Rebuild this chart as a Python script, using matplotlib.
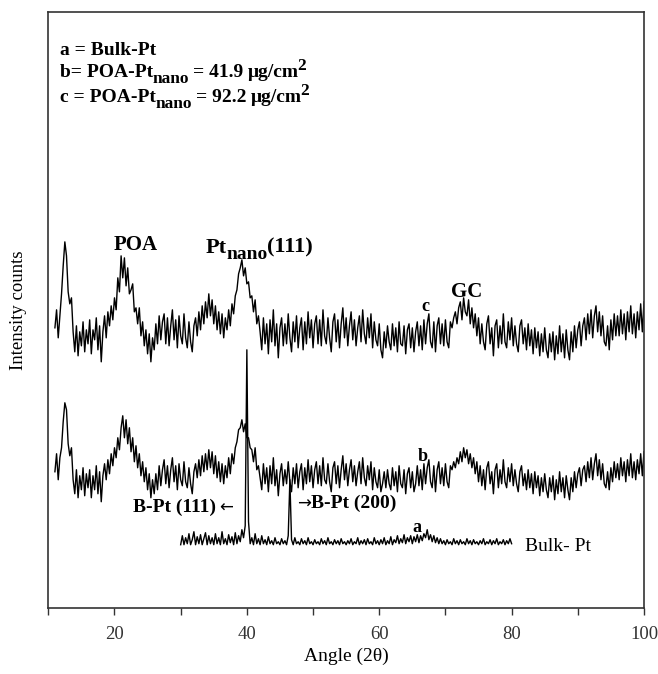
import numpy as np
import matplotlib
matplotlib.use("Agg")
import matplotlib.pyplot as plt
import matplotlib.transforms as mtransforms

# XRD patterns: a = bulk Pt, b/c = POA-Pt nano films (offset traces)
plt.rcParams['font.family'] = ['Liberation Serif', 'DejaVu Serif']

# --- data ---
# traces b and c: 2theta from 11 to 100 in 0.25 deg steps
bc_start, bc_step = 11.0, 0.25
c_counts = [
    280, 298, 270, 292, 314, 342, 366, 352, 316, 304, 310, 276, 256, 282, 252, 276, 262, 286, 256, 278,
    264, 288, 254, 278, 268, 290, 258, 282, 246, 276, 292, 270, 296, 282, 302, 288, 310, 298, 330, 316,
    352, 330, 350, 322, 340, 314, 318, 324, 296, 300, 284, 300, 272, 286, 262, 278, 254, 274, 246, 270,
    258, 284, 264, 292, 268, 286, 294, 264, 290, 262, 282, 298, 268, 288, 260, 292, 272, 264, 294, 270,
    260, 286, 266, 256, 282, 290, 272, 296, 278, 302, 284, 306, 290, 314, 292, 308, 284, 302, 278, 296,
    274, 294, 270, 290, 278, 298, 282, 304, 294, 312, 318, 334, 340, 348, 332, 340, 324, 326, 310, 312,
    296, 308, 284, 292, 276, 258, 290, 264, 284, 254, 288, 266, 298, 262, 284, 250, 280, 290, 262, 284,
    264, 294, 270, 256, 286, 266, 292, 260, 280, 290, 258, 286, 264, 296, 270, 288, 260, 284, 292, 264,
    288, 262, 298, 272, 264, 290, 270, 256, 286, 294, 266, 288, 260, 284, 300, 270, 290, 262, 282, 296,
    268, 288, 262, 280, 292, 266, 298, 274, 264, 290, 270, 294, 260, 286, 268, 262, 284, 258, 250, 276,
    260, 282, 266, 258, 284, 262, 280, 256, 286, 264, 262, 282, 254, 278, 284, 260, 280, 256, 276, 286,
    262, 282, 258, 288, 264, 284, 294, 266, 260, 286, 256, 282, 290, 264, 284, 262, 288, 266, 260, 286,
    280, 290, 296, 284, 300, 306, 288, 310, 296, 292, 308, 284, 300, 280, 294, 272, 290, 264, 284, 266,
    258, 284, 292, 264, 280, 252, 282, 288, 260, 282, 264, 294, 266, 260, 286, 268, 290, 262, 282, 264,
    256, 282, 288, 264, 280, 258, 284, 262, 278, 254, 280, 260, 276, 252, 274, 256, 280, 258, 250, 274,
    256, 276, 248, 272, 254, 282, 256, 274, 250, 278, 258, 248, 276, 256, 282, 260, 278, 286, 262, 282,
    290, 268, 294, 274, 298, 270, 292, 302, 276, 296, 272, 292, 266, 262, 282, 258, 288, 268, 294, 272,
    292, 272, 298, 274, 294, 268, 296, 276, 302, 274, 294, 270, 296, 278, 304, 276, 306,
]
b_counts = [
    136, 154, 128, 150, 160, 186, 205, 198, 164, 152, 160, 128, 114, 138, 110, 132, 118, 140, 112, 134,
    120, 138, 110, 132, 118, 142, 114, 136, 106, 132, 144, 128, 148, 134, 154, 142, 160, 150, 170, 158,
    180, 192, 170, 188, 164, 180, 156, 170, 146, 162, 140, 154, 132, 146, 126, 140, 118, 134, 110, 128,
    114, 134, 118, 142, 122, 138, 148, 124, 142, 120, 138, 150, 126, 142, 118, 144, 128, 122, 146, 126,
    120, 140, 124, 114, 136, 144, 130, 148, 132, 152, 136, 154, 138, 158, 140, 156, 134, 152, 130, 146,
    126, 144, 124, 142, 130, 150, 134, 154, 144, 160, 166, 178, 180, 188, 176, 184, 170, 170, 160, 158,
    146, 160, 138, 142, 130, 118, 144, 124, 140, 116, 142, 124, 150, 122, 138, 112, 134, 144, 122, 138,
    124, 146, 126, 116, 140, 124, 144, 120, 136, 144, 118, 140, 124, 148, 126, 142, 120, 138, 146, 124,
    142, 122, 150, 128, 124, 144, 126, 116, 140, 146, 124, 142, 120, 138, 152, 128, 144, 122, 138, 148,
    126, 142, 122, 136, 146, 124, 150, 130, 122, 142, 128, 146, 118, 140, 126, 120, 138, 116, 124, 136,
    120, 138, 124, 118, 140, 122, 136, 116, 142, 124, 120, 138, 114, 134, 140, 120, 136, 116, 124, 142,
    122, 138, 118, 144, 124, 140, 148, 126, 120, 142, 116, 138, 146, 124, 140, 122, 144, 126, 120, 142,
    138, 146, 140, 150, 144, 156, 146, 160, 150, 158, 144, 154, 140, 150, 134, 146, 126, 142, 122, 138,
    118, 140, 146, 124, 136, 114, 138, 144, 120, 138, 124, 148, 126, 120, 140, 126, 144, 122, 138, 124,
    116, 136, 142, 122, 134, 118, 138, 120, 134, 114, 136, 120, 132, 112, 130, 116, 134, 118, 110, 130,
    116, 132, 108, 128, 114, 136, 116, 130, 110, 132, 118, 108, 130, 116, 136, 120, 134, 140, 122, 138,
    142, 126, 146, 130, 150, 128, 144, 154, 132, 148, 128, 144, 124, 120, 136, 118, 140, 126, 146, 130,
    144, 128, 150, 132, 146, 126, 148, 132, 154, 130, 146, 128, 148, 134, 154, 132, 156,
]
# trace a (bulk Pt): 30 to 80 in 0.25 deg steps
a_start, a_step = 30.0, 0.25
a_counts = [
    63, 72, 63, 70, 64, 74, 63, 68, 76, 63, 71, 64, 73, 63, 69, 75, 63, 72, 64, 70,
    63, 74, 64, 70, 63, 76, 64, 69, 63, 73, 65, 71, 63, 75, 64, 72, 66, 78, 70, 82,
    258, 86, 64, 70, 63, 74, 64, 69, 63, 72, 64, 68, 63, 71, 64, 67, 63, 70, 64, 66,
    63, 69, 64, 67, 63, 72, 128, 68, 63, 70, 64, 66, 63, 69, 64, 67, 63, 70, 64, 66,
    63, 68, 64, 66, 63, 69, 64, 67, 63, 70, 64, 66, 63, 68, 64, 67, 63, 69, 64, 66,
    63, 67, 64, 69, 63, 66, 64, 70, 63, 67, 64, 68, 63, 69, 64, 66, 63, 70, 64, 67,
    63, 68, 64, 70, 63, 67, 64, 71, 63, 68, 65, 72, 64, 69, 65, 73, 64, 70, 66, 72,
    64, 71, 66, 73, 65, 72, 67, 74, 70, 78, 68, 73, 66, 72, 65, 70, 64, 69, 64, 67,
    63, 68, 64, 66, 63, 69, 64, 67, 63, 68, 64, 66, 63, 69, 64, 67, 63, 68, 64, 66,
    63, 67, 64, 69, 63, 66, 64, 68, 63, 67, 64, 69, 63, 66, 64, 68, 63, 67, 64, 69,
    64,
]

bc_angle = bc_start + bc_step * np.arange(len(c_counts))
a_angle = a_start + a_step * np.arange(len(a_counts))

fig = plt.figure(figsize=(6.58, 6.74), dpi=100)
ax = fig.add_axes([0.0734, 0.0984, 0.9053, 0.8838])

ax.plot(bc_angle, c_counts, color='black', lw=1.0)
ax.plot(bc_angle, b_counts, color='black', lw=1.0)
ax.plot(a_angle, a_counts, color='black', lw=1.0)

ax.set_xlim(10, 100)
ax.set_ylim(0, 596)
ax.set_yticks([])
ax.set_xticks([20, 40, 60, 80, 100])
ax.set_xticks([10, 30, 50, 70, 90], minor=True)
ax.tick_params(axis='x', which='both', direction='out', length=5, width=1, pad=8,
               labelsize=13.5, colors='#333333')
for sp in ax.spines.values():
    sp.set_linewidth(1.2)
    sp.set_color('#333333')

ax.set_xlabel('Angle (2θ)', fontsize=14)
ax.xaxis.set_label_coords(0.5, -0.068)
ax.set_ylabel('Intensity counts', fontsize=13.5)
ax.yaxis.set_label_coords(-0.035, 0.5)


def chain_text(x, y, pieces, va='baseline'):
    # pieces: (text, fontsize, baseline shift pt, gap before pt, weight[, family])
    renderer = fig.canvas.get_renderer()
    dx = 0.0
    for piece in pieces:
        s, size, dy, gap, weight = piece[:5]
        family = piece[5] if len(piece) > 5 else None
        dx += gap
        tr = mtransforms.offset_copy(ax.transData, fig=fig, x=dx, y=dy, units='points')
        t = ax.text(x, y, s, transform=tr, fontsize=size, fontweight=weight,
                    ha='left', va=va, family=family)
        dx += t.get_window_extent(renderer).width * 72 / fig.dpi


# key in upper left
ax.text(11.8, 553, 'a = Bulk-Pt', va='baseline', fontweight='bold', fontsize=14)
chain_text(11.8, 531, [('b= POA-Pt', 14, 0, 0, 'bold'), ('nano', 12.5, -4, -0.5, 'bold'),
                       ('= 41.9', 14, 0, 3, 'bold'), ('μg/cm', 14, 0, 3, 'bold'),
                       ('2', 12.5, 5, -1, 'bold')])
chain_text(11.8, 506, [('c = POA-Pt', 14, 0, 0, 'bold'), ('nano', 12.5, -4, -0.5, 'bold'),
                       ('= 92.2', 14, 0, 3, 'bold'), ('μg/cm', 14, 0, 3, 'bold'),
                       ('2', 12.5, 5, -1, 'bold')])

# peak labels
ax.text(23.2, 363, 'POA', ha='center', va='center', fontweight='bold', fontsize=15)
chain_text(33.8, 355, [('Pt', 16, 0, 0, 'bold'), ('nano', 14, -4.5, -0.5, 'bold'),
                       ('(111)', 16, 0, -0.5, 'bold')])
ax.text(73.2, 316, 'GC', ha='center', va='center', fontweight='bold', fontsize=15)
ax.text(66.9, 301, 'c', ha='center', va='center', fontweight='bold', fontsize=13)
ax.text(66.6, 151, 'b', ha='center', va='center', fontweight='bold', fontsize=13)
ax.text(65.7, 80, 'a', ha='center', va='center', fontweight='bold', fontsize=13)
ax.text(82.0, 61, 'Bulk- Pt', ha='left', va='center', fontsize=14)
chain_text(22.8, 100, [('B-Pt (111)', 14, 0, 0, 'bold'),
                       ('\u2190', 12, 0, 2, 'normal', 'DejaVu Sans')], va='center')
chain_text(47.6, 104, [('\u2192', 12, 0, 0, 'normal', 'DejaVu Sans'),
                       ('B-Pt (200)', 14, 0, 0, 'bold')], va='center')

fig.savefig('out.png', dpi=100)
